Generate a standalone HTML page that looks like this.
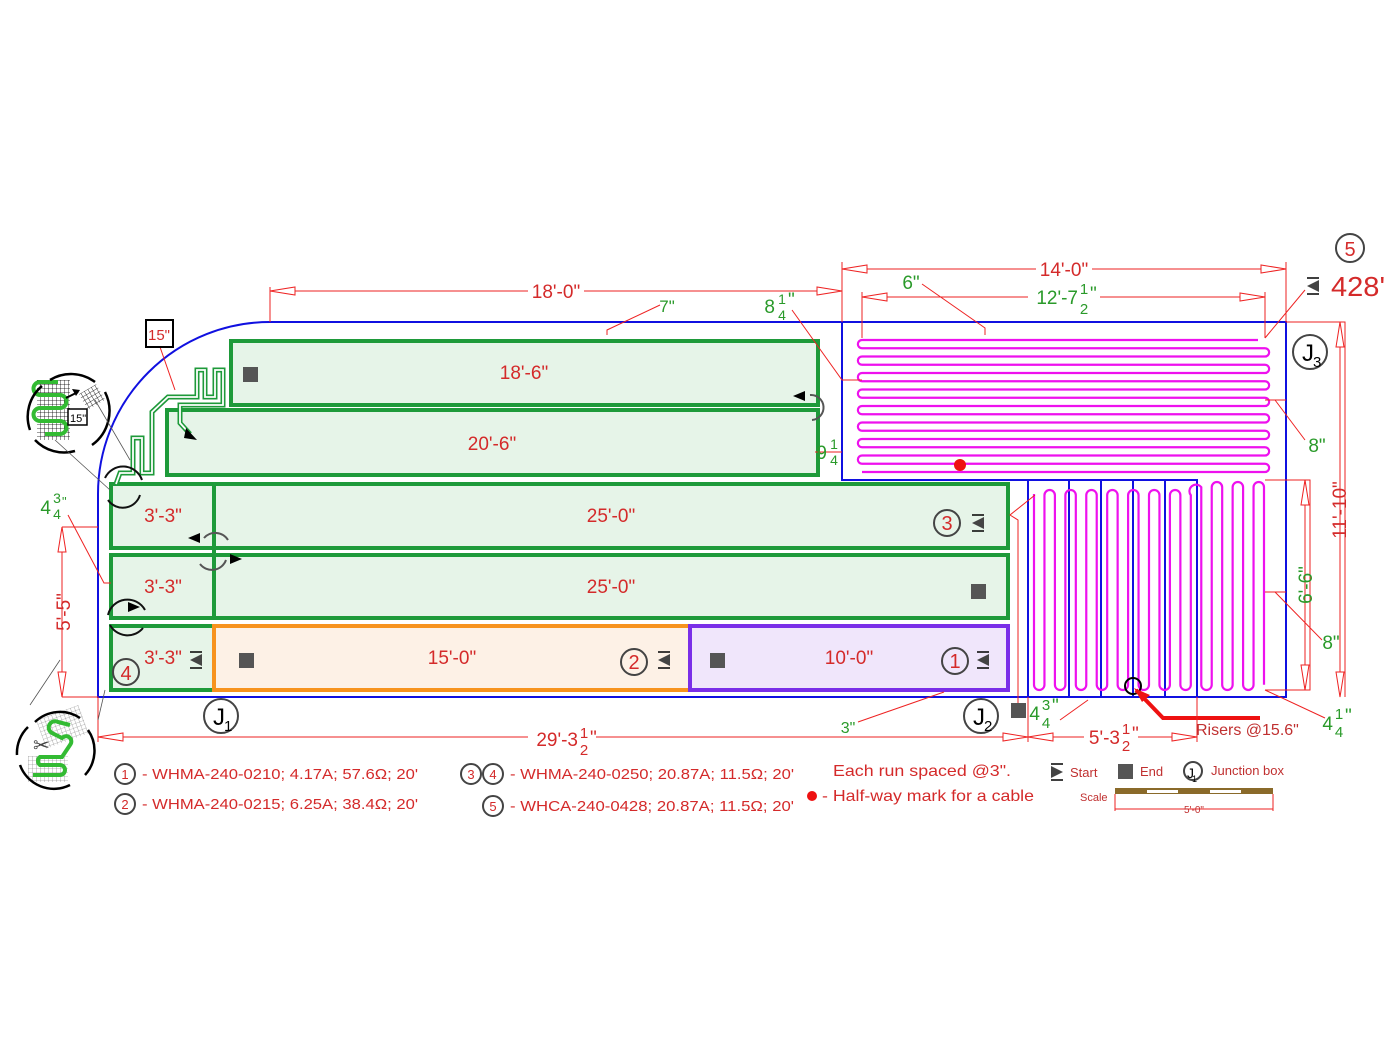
<!DOCTYPE html>
<html><head><meta charset="utf-8"><style>
html,body{margin:0;padding:0;background:#fff;width:1400px;height:1049px;overflow:hidden}
svg{display:block;font-family:"Liberation Sans",Arial,sans-serif}
.r{fill:#d42a2a}.g{fill:#2a9a2a}
.e{text-anchor:end}.m{text-anchor:middle}.s{text-anchor:start}
</style></head><body>
<svg id="s" width="1400" height="1049" viewBox="0 0 1400 1049" xmlns="http://www.w3.org/2000/svg">
<defs>
<pattern id="mesh" width="4" height="4" patternUnits="userSpaceOnUse"><path d="M0 0H4M0 0V4" stroke="#000" stroke-width="0.8"/></pattern>
<pattern id="mesh2" width="4" height="4" patternUnits="userSpaceOnUse"><path d="M0 0H4M0 0V4" stroke="#777" stroke-width="0.6"/></pattern>
</defs>

<g stroke="#1e9a3a" stroke-width="4" fill="#e6f4e8">
<rect x="231" y="341" width="587" height="64"/>
<rect x="167" y="410" width="651" height="65"/>
<rect x="111" y="484" width="897" height="64"/>
<rect x="111" y="555" width="897" height="63"/>
<rect x="111" y="626" width="103" height="64"/>
</g>
<line x1="214" y1="484" x2="214" y2="618" stroke="#1e9a3a" stroke-width="4"/>
<rect x="214" y="626" width="476" height="64" fill="#fdf1e6" stroke="#f7931e" stroke-width="4"/>
<rect x="690" y="626" width="318" height="64" fill="#f0e6fb" stroke="#7a2ee8" stroke-width="4"/>

<g fill="none" stroke="#1010e0" stroke-width="2">
<path d="M270 322 H1286 V697 H98 V494 A172 172 0 0 1 270 322 Z"/>
<path d="M842 322 V480 H1197 V697"/>
<path d="M1028 480 V697 M1069 480 V697 M1101 480 V697 M1133 480 V697 M1165 480 V697"/>
</g>

<g id="serp" fill="none" stroke="#ee11ee" stroke-width="2.2"></g>
<circle cx="960" cy="465" r="6" fill="#ee1111"/>

<path d="M116 484 L120 473 L133 473 L133 438 L142 438 L142 473 L152 473 L152 412 L168 397 L197 397 L197 370 L205 370 L205 397 L215 397 L215 370 L223 370 L223 405 L180 405 L180 423 L190 434" fill="none" stroke="#1e9a3a" stroke-width="5"/>
<path d="M116 484 L120 473 L133 473 L133 438 L142 438 L142 473 L152 473 L152 412 L168 397 L197 397 L197 370 L205 370 L205 397 L215 397 L215 370 L223 370 L223 405 L180 405 L180 423 L190 434" fill="none" stroke="#fff" stroke-width="1.8"/>
<polygon points="186,428 197,440 184,438" fill="#000"/>

<g fill="#555">
<rect x="243" y="367" width="15" height="15"/>
<rect x="971" y="584" width="15" height="15"/>
<rect x="239" y="653" width="15" height="15"/>
<rect x="710" y="653" width="15" height="15"/>
<rect x="1011" y="703" width="15" height="15"/>
<rect x="1118" y="764" width="15" height="15"/>
</g>
<g fill="#444" stroke="#000" stroke-width="1.5">
<g transform="translate(978,523)"><path d="M-6 -8H6M-6 8H6" fill="none"/><polygon points="6,-6 6,6 -6,0" stroke="none"/></g>
<g transform="translate(983,660)"><path d="M-6 -8H6M-6 8H6" fill="none"/><polygon points="6,-6 6,6 -6,0" stroke="none"/></g>
<g transform="translate(664,660)"><path d="M-6 -8H6M-6 8H6" fill="none"/><polygon points="6,-6 6,6 -6,0" stroke="none"/></g>
<g transform="translate(196,660)"><path d="M-6 -8H6M-6 8H6" fill="none"/><polygon points="6,-6 6,6 -6,0" stroke="none"/></g>
<g transform="translate(1313,286)"><path d="M-6 -8H6M-6 8H6" fill="none"/><polygon points="6,-6 6,6 -6,0" stroke="none"/></g>
<g transform="translate(1057,772)"><path d="M-6 -8H6M-6 8H6" fill="none"/><polygon points="-6,-6 -6,6 6,0" stroke="none"/></g>
</g>

<g class="r" font-size="19" text-anchor="middle">
<text x="524" y="379">18'-6"</text>
<text x="492" y="450">20'-6"</text>
<text x="163" y="522">3'-3"</text>
<text x="611" y="522">25'-0"</text>
<text x="163" y="593">3'-3"</text>
<text x="611" y="593">25'-0"</text>
<text x="163" y="664">3'-3"</text>
<text x="452" y="664">15'-0"</text>
<text x="849" y="664">10'-0"</text>
</g>
<g fill="none" stroke="#444" stroke-width="2">
<circle cx="947" cy="523" r="13"/><circle cx="634" cy="662" r="13"/><circle cx="955" cy="661" r="13"/>
<circle cx="126" cy="672" r="13"/><circle cx="1350" cy="248" r="14"/>
<circle cx="221" cy="716" r="17"/><circle cx="981" cy="716" r="17"/><circle cx="1310" cy="352" r="17"/>
<circle cx="125" cy="774" r="10"/><circle cx="125" cy="804" r="10"/><circle cx="471" cy="774" r="10"/><circle cx="493" cy="774" r="10"/><circle cx="493" cy="806" r="10"/>
<circle cx="1193" cy="771" r="9"/>
</g>
<g class="r" text-anchor="middle" font-size="20">
<text x="947" y="530">3</text><text x="634" y="669">2</text><text x="955" y="668">1</text><text x="126" y="680">4</text><text x="1350" y="256">5</text>
</g>
<g text-anchor="middle" font-size="24" fill="#000">
<text x="219" y="725">J</text><text x="979" y="725">J</text><text x="1308" y="361">J</text>
</g>
<g font-size="15" fill="#000"><text x="224" y="731">1</text><text x="984" y="731">2</text><text x="1313" y="367">3</text></g>
<text x="1331" y="296" class="r" font-size="28" textLength="54" lengthAdjust="spacingAndGlyphs">428'</text>

<g fill="none" stroke="#111" stroke-width="2">
<path d="M105 478 A20 20 0 0 1 142 480"/><path d="M108 500 A18 18 0 0 0 140 495"/>
<path d="M108 615 A20 20 0 0 1 145 610"/><path d="M110 625 A20 20 0 0 0 143 628"/>
<path d="M204 538 A15 15 0 0 1 228 540" stroke="#555"/><path d="M200 564 A15 15 0 0 0 226 560" stroke="#555"/>
<path d="M810 395 A12 12 0 0 1 812 420" stroke="#555"/>
</g>
<g fill="#000"><polygon points="188,538 200,533 200,543"/><polygon points="242,559 230,554 230,564"/><polygon points="793,396 805,391 805,401"/><polygon points="140,607 128,602 128,612"/></g>
<circle cx="1133" cy="686" r="8" fill="none" stroke="#000" stroke-width="2"/>
<path d="M1136 690 L1163 718 L1260 718" stroke="#ee1111" stroke-width="4" fill="none"/>
<polygon points="1134,688 1150,695 1142,702" fill="#ee1111"/>

<g stroke="#ee2222" stroke-width="1" fill="none">
<path d="M270 322 V287 M842 322 V262 M1286 322 V262 M862 338 V292 M1265 338 V292"/>
<path d="M270 291 H842"/><path d="M842 269 H1286"/><path d="M862 297 H1265"/>
<path d="M922 284 L985 328 V335"/><path d="M607 335 V330 L660 305"/><path d="M792 310 L842 380 L862 380"/>
<path d="M1286 322 H1345 V697"/><path d="M1340 322 V697"/>
<path d="M1265 480 H1310 V690 H1265"/><path d="M1305 480 V690"/>
<path d="M1265 400 H1286 M1275 400 L1305 440"/><path d="M1265 592 H1286 M1275 592 L1322 640"/>
<path d="M1265 690 L1325 718"/>
<path d="M98 697 V742 M1028 697 V742 M1197 697 V742"/>
<path d="M98 737 H1028"/><path d="M1028 737 H1197"/>
<path d="M62 527 H98 M62 697 H98 M62 527 V697"/>
<path d="M68 515 L104 583 H111"/>
<path d="M858 722 L944 692"/><path d="M1060 720 L1088 700"/>
<path d="M1018 703 V520 L1010 515 L1035 495"/>
<path d="M1265 338 L1305 290"/>
<path d="M160 347 L175 390"/>
<path d="M815 452 H842"/>
</g>
<g fill="#fff" stroke="#ee2222" stroke-width="1">
<polygon points="270,291 295,287 295,295"/><polygon points="842,291 817,287 817,295"/>
<polygon points="842,269 867,265 867,273"/><polygon points="1286,269 1261,265 1261,273"/>
<polygon points="862,297 887,293 887,301"/><polygon points="1265,297 1240,293 1240,301"/>
<polygon points="98,737 123,733 123,741"/><polygon points="1028,737 1003,733 1003,741"/>
<polygon points="1028,737 1053,733 1053,741"/><polygon points="1197,737 1172,733 1172,741"/>
<polygon points="62,527 58,552 66,552"/><polygon points="62,697 58,672 66,672"/>
<polygon points="1340,322 1336,347 1344,347"/><polygon points="1340,697 1336,672 1344,672"/>
<polygon points="1305,480 1301,505 1309,505"/><polygon points="1305,690 1301,665 1309,665"/>
</g>

<g font-size="19">
<rect x="528" y="281" width="56" height="20" fill="#fff"/><text x="556" y="298" class="r m">18'-0"</text>
<rect x="1036" y="259" width="56" height="20" fill="#fff"/><text x="1064" y="276" class="r m">14'-0"</text>
<rect x="1028" y="285" width="72" height="24" fill="#fff"/>
<text x="1078" y="304" class="g e">12'-7</text><text x="1084" y="294" class="g m" font-size="15">1</text><text x="1084" y="314" class="g m" font-size="15">2</text><text x="1090" y="300" class="g s">"</text>
<text x="911" y="289" class="g m">6"</text><text x="667" y="312" class="g m" font-size="17">7"</text>
<text x="775" y="313" class="g e">8</text><text x="782" y="304" class="g m" font-size="14">1</text><text x="782" y="320" class="g m" font-size="14">4</text><text x="788" y="306" class="g s">"</text>
<text x="827" y="459" class="g e">9</text><text x="834" y="449" class="g m" font-size="14">1</text><text x="834" y="465" class="g m" font-size="14">4</text>
<text x="1317" y="452" class="g m">8"</text><text x="1331" y="649" class="g m">8"</text>
<text x="51" y="514" class="g e">4</text><text x="57" y="503" class="g m" font-size="14">3</text><text x="57" y="519" class="g m" font-size="14">4</text><text x="62" y="506" class="g s" font-size="13">"</text>
<text x="848" y="733" class="g m" font-size="16">3"</text>
<text x="1040" y="720" class="g e">4</text><text x="1046" y="710" class="g m" font-size="15">3</text><text x="1046" y="728" class="g m" font-size="15">4</text><text x="1052" y="712" class="g s">"</text>
<text x="1333" y="730" class="g e">4</text><text x="1339" y="719" class="g m" font-size="15">1</text><text x="1339" y="737" class="g m" font-size="15">4</text><text x="1345" y="722" class="g s">"</text>
<rect x="528" y="727" width="68" height="24" fill="#fff"/>
<text x="578" y="746" class="r e">29'-3</text><text x="584" y="738" class="r m" font-size="15">1</text><text x="584" y="755" class="r m" font-size="15">2</text><text x="590" y="744" class="r s">"</text>
<rect x="1084" y="727" width="54" height="24" fill="#fff"/>
<text x="1120" y="744" class="r e">5'-3</text><text x="1126" y="734" class="r m" font-size="15">1</text><text x="1126" y="751" class="r m" font-size="15">2</text><text x="1132" y="740" class="r s">"</text>
<text x="1196" y="735" fill="#c03030" font-size="16">Risers @15.6"</text>
<text transform="translate(1346,510) rotate(-90)" class="r m">11'-10"</text>
<text transform="translate(1312,585) rotate(-90)" class="g m">6'-6"</text>
<text transform="translate(70,612) rotate(-90)" class="r m">5'-5"</text>
</g>
<rect x="146" y="320" width="27" height="27" fill="#fff" stroke="#000" stroke-width="2"/>
<text x="159" y="340" text-anchor="middle" class="r" font-size="15">15"</text>

<g>
<rect x="37" y="380" width="33" height="60" fill="url(#mesh)"/>
<rect x="82" y="388" width="20" height="18" fill="url(#mesh)" transform="rotate(-30 92 397)"/>
<path d="M58 382 H40 A6 6 0 0 0 40 395 H60 A6 6 0 0 1 60 408 H40 A6 6 0 0 0 40 421 H60 A6 6 0 0 1 60 434 H45" fill="none" stroke="#33bb33" stroke-width="4"/>
<path d="M66 398 L78 392" stroke="#000" stroke-width="2"/><polygon points="80,390 72,389 76,396" fill="#000"/>
<rect x="68" y="409" width="19" height="16" fill="#fff" stroke="#000" stroke-width="1.5"/><text x="70" y="422" font-size="11">15"</text>
<path d="M50 380 A40 40 0 0 1 95 382 M105 392 A42 42 0 0 1 92 445 M75 451 A40 40 0 0 1 35 440 M30 430 A40 40 0 0 1 42 386" fill="none" stroke="#000" stroke-width="2.5"/>
<path d="M55 440 L110 490 M95 400 L130 460" stroke="#555" stroke-width="0.8"/>
</g>
<g>
<rect x="40" y="712" width="45" height="30" fill="url(#mesh2)" transform="rotate(-20 62 727)"/>
<rect x="28" y="756" width="40" height="26" fill="url(#mesh2)"/>
<path d="M33 775 H60 A5 5 0 0 0 60 765 H40 A5 5 0 0 1 40 757 H62 L70 745 A5 5 0 0 0 62 738 L52 733 A5 5 0 0 1 58 722 L70 725" fill="none" stroke="#33bb33" stroke-width="4"/>
<text x="33" y="752" font-size="20" fill="#444">✂</text>
<path d="M35 722 A36 36 0 0 1 80 718 M88 730 A36 36 0 0 1 85 775 M70 785 A36 36 0 0 1 20 765 M17 755 A36 36 0 0 1 28 727" fill="none" stroke="#000" stroke-width="2.5"/>
<path d="M30 705 L60 660 M105 690 L98 720" stroke="#555" stroke-width="0.8"/>
</g>

<g class="r" font-size="15" text-anchor="middle">
<text x="125" y="779" font-size="13">1</text><text x="125" y="809" font-size="13">2</text><text x="471" y="779" font-size="13">3</text><text x="493" y="779" font-size="13">4</text><text x="493" y="811" font-size="13">5</text>
</g>
<g class="r" font-size="15">
<text x="142" y="779" textLength="276" lengthAdjust="spacingAndGlyphs">- WHMA-240-0210; 4.17A; 57.6Ω; 20'</text>
<text x="142" y="809" textLength="276" lengthAdjust="spacingAndGlyphs">- WHMA-240-0215; 6.25A; 38.4Ω; 20'</text>
<text x="510" y="779" textLength="284" lengthAdjust="spacingAndGlyphs">- WHMA-240-0250; 20.87A; 11.5Ω; 20'</text>
<text x="510" y="811" textLength="284" lengthAdjust="spacingAndGlyphs">- WHCA-240-0428; 20.87A; 11.5Ω; 20'</text>
<text x="833" y="776" font-size="16" textLength="178" lengthAdjust="spacingAndGlyphs">Each run spaced @3".</text>
<text x="822" y="801" font-size="16" textLength="212" lengthAdjust="spacingAndGlyphs">- Half-way mark for a cable</text>
<text x="1070" y="777" font-size="13" fill="#c03030">Start</text>
<text x="1140" y="776" font-size="13" fill="#c03030">End</text>
<text x="1211" y="775" font-size="13" fill="#c03030">Junction box</text>
<text x="1080" y="801" font-size="11" fill="#c03030">Scale</text>
</g>
<circle cx="812" cy="796" r="5" fill="#ee1111"/>
<text x="1187" y="778" font-size="14">J</text><text x="1192" y="782" font-size="9">1</text>
<rect x="1115" y="788" width="158" height="6" fill="#8a6a2a"/>
<rect x="1147" y="790" width="31" height="3" fill="#fff"/><rect x="1210" y="790" width="31" height="3" fill="#fff"/>
<path d="M1115 794 V811 M1273 794 V811 M1115 809 H1273" stroke="#ee2222" fill="none"/>
<text x="1194" y="813" font-size="10" fill="#c03030" text-anchor="middle">5'-0"</text>
</svg>
<script>
(function(){
var g=document.getElementById('serp'),d='';
var n=17,y0=340,sp=8.25,xl=862,xr=1265,r=sp/2;
d+='M1258 '+y0+' L'+xl+' '+y0;
for(var i=0;i<n-1;i++){
 var y=y0+i*sp, y2=y+sp;
 if(i%2==0){d+=' A'+r+' '+r+' 0 0 0 '+xl+' '+y2+' L'+xr+' '+y2;}
 else{d+=' A'+r+' '+r+' 0 0 1 '+xr+' '+y2+' L'+xl+' '+y2;}
}
var m=23,x0=1034,s2=(1264-x0)/(m-1),r2=s2/2,bot=690;
function top(x){return x>1197?482:490;}
var e='M'+x0+' '+(top(x0)+4);
e+=' L'+x0+' '+(bot-r2);
for(var j=0;j<m-1;j++){
 var x=x0+j*s2,x2=x+s2;
 if(j%2==0){e+=' A'+r2+' '+r2+' 0 0 0 '+x2+' '+(bot-r2)+' L'+x2+' '+(top(x2)+r2);}
 else{e+=' A'+r2+' '+r2+' 0 0 1 '+x2+' '+(top(x2)+r2)+' L'+x2+' '+(bot-r2);}
}
var p1=document.createElementNS('http://www.w3.org/2000/svg','path');p1.setAttribute('d',d);g.appendChild(p1);
var p2=document.createElementNS('http://www.w3.org/2000/svg','path');p2.setAttribute('d',e);g.appendChild(p2);
})();
</script>
</body></html>
